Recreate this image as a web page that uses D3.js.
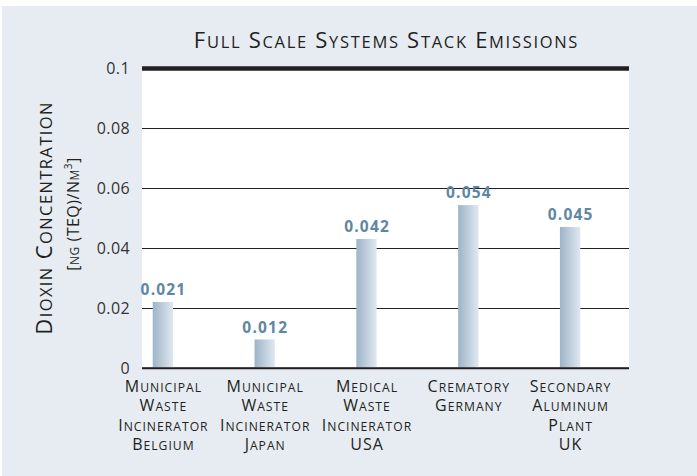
<!DOCTYPE html>
<html>
<head>
<meta charset="utf-8">
<script src="https://cdn.jsdelivr.net/npm/d3@7"></script>
<style>
  html, body { margin: 0; padding: 0; background: #ffffff; }
  svg { display: block; }
</style>
</head>
<body>
<div id="chart"></div>
<script>
// ---- data ----
const categories = ["Belgium", "Japan", "USA", "Germany", "UK"];
const categoryLines = [
  ["Municipal", "Waste", "Incinerator", "Belgium"],
  ["Municipal", "Waste", "Incinerator", "Japan"],
  ["Medical", "Waste", "Incinerator", "USA"],
  ["Crematory", "Germany"],
  ["Secondary", "Aluminum", "Plant", "UK"]
];
const values = [0.022, 0.0095, 0.043, 0.0543, 0.047];
const valueLabels = ["0.021", "0.012", "0.042", "0.054", "0.045"];
const yTicks = [0, 0.02, 0.04, 0.06, 0.08, 0.1];
const yTickLabels = ["0", "0.02", "0.04", "0.06", "0.08", "0.1"];
const titleText = "Full Scale Systems Stack Emissions";
const yTitle = "Dioxin Concentration";

// ---- layout ----
const W = 697, H = 476;
const plot = { left: 142, right: 629, top: 68, bottom: 368 };
const FONT = "'Open Sans', sans-serif";

const svg = d3.select("#chart").append("svg").attr("width", W).attr("height", H);

// small caps helper: uppercase chars full size, lowercase rendered as smaller caps
function smallCaps(textSel, str, size, ratio) {
  const runs = [];
  for (const ch of str) {
    const small = ch !== ch.toUpperCase();
    const last = runs[runs.length - 1];
    if (last && last.small === small) last.t += ch; else runs.push({ small, t: ch });
  }
  runs.forEach(r => {
    textSel.append("tspan")
      .attr("font-size", r.small ? size * ratio : size)
      .text(r.t.toUpperCase());
  });
  return textSel;
}

// background panel
svg.append("rect").attr("x", 2).attr("y", 6).attr("width", W - 2).attr("height", H - 6)
  .attr("fill", "#e7ecf3");

// plot area
svg.append("rect").attr("x", plot.left).attr("y", plot.top)
  .attr("width", plot.right - plot.left).attr("height", plot.bottom - plot.top)
  .attr("fill", "#ffffff");

const y = d3.scaleLinear().domain([0, 0.1]).range([plot.bottom, plot.top]);
const x = d3.scaleBand().domain(categories).range([112, 621])
  .paddingInner(0.8).paddingOuter(0.4);

// gradient for bars
const defs = svg.append("defs");
const grad = defs.append("linearGradient").attr("id", "barGrad")
  .attr("x1", "0%").attr("x2", "100%").attr("y1", "0%").attr("y2", "0%");
grad.append("stop").attr("offset", "0%").attr("stop-color", "#9db4c8");
grad.append("stop").attr("offset", "100%").attr("stop-color", "#e0e8f0");

// y axis with gridlines
const yAxis = d3.axisLeft(y).tickValues(yTicks)
  .tickFormat((d, i) => yTickLabels[i])
  .tickSize(-(plot.right - plot.left)).tickPadding(12);
const gy = svg.append("g").attr("transform", `translate(${plot.left},0)`).call(yAxis);
gy.select(".domain").remove();
gy.selectAll(".tick line")
  .attr("stroke", "#231f20")
  .attr("stroke-width", d => d === 0.1 ? 4.5 : (d === 0 ? 1.6 : 1.2));
gy.selectAll(".tick text")
  .attr("font-family", FONT).attr("font-size", 16).attr("letter-spacing", 0.4)
  .attr("fill", "#333333");

// bars
svg.append("g").selectAll("rect").data(values).join("rect")
  .attr("x", (d, i) => x(categories[i]))
  .attr("width", x.bandwidth())
  .attr("y", d => y(d))
  .attr("height", d => y(0) - y(d))
  .attr("fill", "url(#barGrad)");

// redraw baseline above bars
svg.append("line").attr("x1", plot.left).attr("x2", plot.right)
  .attr("y1", y(0)).attr("y2", y(0)).attr("stroke", "#231f20").attr("stroke-width", 1.6);

// value labels
svg.append("g").selectAll("text").data(values).join("text")
  .attr("x", (d, i) => x(categories[i]) + x.bandwidth() / 2 + 0.6)
  .attr("y", d => y(d) - 7)
  .attr("text-anchor", "middle")
  .attr("font-family", FONT).attr("font-weight", "bold").attr("font-size", 15.5)
  .attr("letter-spacing", 1.2)
  .attr("fill", "#5d87a5")
  .text((d, i) => valueLabels[i]);

// category labels
const catG = svg.append("g");
categoryLines.forEach((lines, i) => {
  lines.forEach((ln, j) => {
    const t = catG.append("text")
      .attr("x", x(categories[i]) + x.bandwidth() / 2 + 0.5)
      .attr("y", 392 + j * 19.4)
      .attr("text-anchor", "middle")
      .attr("letter-spacing", 1)
      .attr("font-family", FONT).attr("fill", "#231f20");
    smallCaps(t, ln, 16, 0.76);
  });
});

// title
const tt = svg.append("text")
  .attr("x", (plot.left + plot.right) / 2 + 1).attr("y", 48)
  .attr("text-anchor", "middle").attr("font-family", FONT)
  .attr("letter-spacing", 1.7).attr("fill", "#231f20");
smallCaps(tt, titleText, 22, 0.75);

// y axis title
const cy = (plot.top + plot.bottom) / 2;
const yt = svg.append("text")
  .attr("transform", `translate(52,${cy}) rotate(-90)`)
  .attr("text-anchor", "middle").attr("font-family", FONT)
  .attr("letter-spacing", 1.4).attr("fill", "#231f20");
smallCaps(yt, yTitle, 22, 0.75);

const yu = svg.append("text")
  .attr("transform", `translate(79,${cy - 4}) rotate(-90)`)
  .attr("text-anchor", "middle").attr("font-family", FONT)
  .attr("letter-spacing", 0.5).attr("fill", "#231f20");
yu.append("tspan").attr("font-size", 16).text("[");
yu.append("tspan").attr("font-size", 12).text("NG");
yu.append("tspan").attr("font-size", 16).text(" (TEQ)/N");
yu.append("tspan").attr("font-size", 12).text("M");
yu.append("tspan").attr("font-size", 10).attr("dy", -7).text("3");
yu.append("tspan").attr("font-size", 16).attr("dy", 7).text("]");
</script>
</body>
</html>
